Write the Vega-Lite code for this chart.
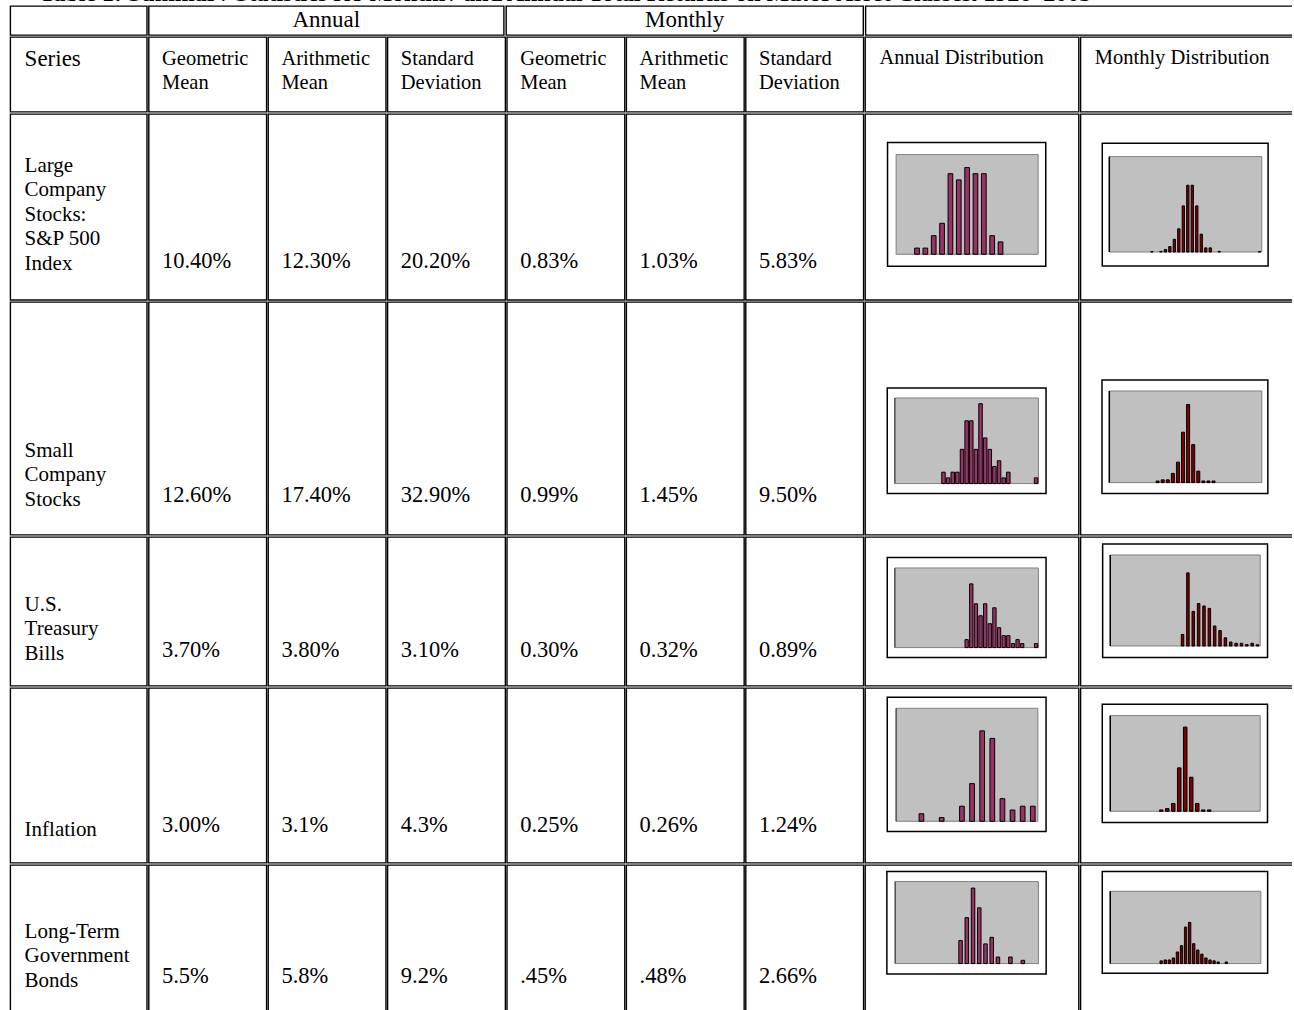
{
  "$schema": "https://vega.github.io/schema/vega-lite/v6.json",
  "background": "white",
  "padding": {"left": 9.3, "top": 0, "right": -3.3, "bottom": -6.3},
  "spacing": 0,
  "config": {
    "view": {"stroke": "black", "strokeWidth": 1.4},
    "text": {"font": "Liberation Serif", "color": "black", "align": "left", "baseline": "alphabetic", "fontSize": 22.5, "dx": 13.3, "lineBreak": "\n", "lineHeight": 24},
    "concat": {"spacing": 1.4}
  },
  "datasets": {
    "stats": [
      {"series": "Large", "col": "AG", "value": "10.40%"}, {"series": "Large", "col": "AA", "value": "12.30%"}, {"series": "Large", "col": "AS", "value": "20.20%"},
      {"series": "Large", "col": "MG", "value": "0.83%"}, {"series": "Large", "col": "MA", "value": "1.03%"}, {"series": "Large", "col": "MS", "value": "5.83%"},
      {"series": "Small", "col": "AG", "value": "12.60%"}, {"series": "Small", "col": "AA", "value": "17.40%"}, {"series": "Small", "col": "AS", "value": "32.90%"},
      {"series": "Small", "col": "MG", "value": "0.99%"}, {"series": "Small", "col": "MA", "value": "1.45%"}, {"series": "Small", "col": "MS", "value": "9.50%"},
      {"series": "TBills", "col": "AG", "value": "3.70%"}, {"series": "TBills", "col": "AA", "value": "3.80%"}, {"series": "TBills", "col": "AS", "value": "3.10%"},
      {"series": "TBills", "col": "MG", "value": "0.30%"}, {"series": "TBills", "col": "MA", "value": "0.32%"}, {"series": "TBills", "col": "MS", "value": "0.89%"},
      {"series": "Inflation", "col": "AG", "value": "3.00%"}, {"series": "Inflation", "col": "AA", "value": "3.1%"}, {"series": "Inflation", "col": "AS", "value": "4.3%"},
      {"series": "Inflation", "col": "MG", "value": "0.25%"}, {"series": "Inflation", "col": "MA", "value": "0.26%"}, {"series": "Inflation", "col": "MS", "value": "1.24%"},
      {"series": "Bonds", "col": "AG", "value": "5.5%"}, {"series": "Bonds", "col": "AA", "value": "5.8%"}, {"series": "Bonds", "col": "AS", "value": "9.2%"},
      {"series": "Bonds", "col": "MG", "value": ".45%"}, {"series": "Bonds", "col": "MA", "value": ".48%"}, {"series": "Bonds", "col": "MS", "value": "2.66%"}
    ],
    "series": [
      {"series": "Large", "label": "Large\nCompany\nStocks:\nS&P 500\nIndex"},
      {"series": "Small", "label": "Small\nCompany\nStocks"},
      {"series": "TBills", "label": "U.S.\nTreasury\nBills"},
      {"series": "Inflation", "label": "Inflation"},
      {"series": "Bonds", "label": "Long-Term\nGovernment\nBonds"}
    ],
    "headers": [
      {"col": "AG", "label": "Geometric\nMean"}, {"col": "AA", "label": "Arithmetic\nMean"}, {"col": "AS", "label": "Standard\nDeviation"},
      {"col": "MG", "label": "Geometric\nMean"}, {"col": "MA", "label": "Arithmetic\nMean"}, {"col": "MS", "label": "Standard\nDeviation"}
    ],
    "hist": [
      {"series": "Large", "freq": "Annual", "bin": 2, "count": 1}, {"series": "Large", "freq": "Annual", "bin": 3, "count": 1},
      {"series": "Large", "freq": "Annual", "bin": 4, "count": 3}, {"series": "Large", "freq": "Annual", "bin": 5, "count": 5},
      {"series": "Large", "freq": "Annual", "bin": 6, "count": 13}, {"series": "Large", "freq": "Annual", "bin": 7, "count": 12},
      {"series": "Large", "freq": "Annual", "bin": 8, "count": 14}, {"series": "Large", "freq": "Annual", "bin": 9, "count": 13},
      {"series": "Large", "freq": "Annual", "bin": 10, "count": 13}, {"series": "Large", "freq": "Annual", "bin": 11, "count": 3},
      {"series": "Large", "freq": "Annual", "bin": 12, "count": 2},
      {"series": "Large", "freq": "Monthly", "bin": 9, "count": 1}, {"series": "Large", "freq": "Monthly", "bin": 11, "count": 2},
      {"series": "Large", "freq": "Monthly", "bin": 12, "count": 8}, {"series": "Large", "freq": "Monthly", "bin": 13, "count": 17},
      {"series": "Large", "freq": "Monthly", "bin": 14, "count": 40}, {"series": "Large", "freq": "Monthly", "bin": 15, "count": 73},
      {"series": "Large", "freq": "Monthly", "bin": 16, "count": 145}, {"series": "Large", "freq": "Monthly", "bin": 17, "count": 210},
      {"series": "Large", "freq": "Monthly", "bin": 18, "count": 210}, {"series": "Large", "freq": "Monthly", "bin": 19, "count": 145},
      {"series": "Large", "freq": "Monthly", "bin": 20, "count": 56}, {"series": "Large", "freq": "Monthly", "bin": 21, "count": 13},
      {"series": "Large", "freq": "Monthly", "bin": 22, "count": 13}, {"series": "Large", "freq": "Monthly", "bin": 24, "count": 2},
      {"series": "Large", "freq": "Monthly", "bin": 33, "count": 1},
      {"series": "Small", "freq": "Annual", "bin": 10, "count": 2}, {"series": "Small", "freq": "Annual", "bin": 11, "count": 1},
      {"series": "Small", "freq": "Annual", "bin": 12, "count": 2}, {"series": "Small", "freq": "Annual", "bin": 13, "count": 2},
      {"series": "Small", "freq": "Annual", "bin": 14, "count": 6}, {"series": "Small", "freq": "Annual", "bin": 15, "count": 11},
      {"series": "Small", "freq": "Annual", "bin": 16, "count": 11}, {"series": "Small", "freq": "Annual", "bin": 17, "count": 6},
      {"series": "Small", "freq": "Annual", "bin": 18, "count": 14}, {"series": "Small", "freq": "Annual", "bin": 19, "count": 8},
      {"series": "Small", "freq": "Annual", "bin": 20, "count": 6}, {"series": "Small", "freq": "Annual", "bin": 21, "count": 3},
      {"series": "Small", "freq": "Annual", "bin": 22, "count": 4}, {"series": "Small", "freq": "Annual", "bin": 23, "count": 1},
      {"series": "Small", "freq": "Annual", "bin": 24, "count": 2}, {"series": "Small", "freq": "Annual", "bin": 30, "count": 1},
      {"series": "Small", "freq": "Monthly", "bin": 9, "count": 7}, {"series": "Small", "freq": "Monthly", "bin": 10, "count": 12},
      {"series": "Small", "freq": "Monthly", "bin": 11, "count": 12}, {"series": "Small", "freq": "Monthly", "bin": 12, "count": 40},
      {"series": "Small", "freq": "Monthly", "bin": 13, "count": 89}, {"series": "Small", "freq": "Monthly", "bin": 14, "count": 220},
      {"series": "Small", "freq": "Monthly", "bin": 15, "count": 341}, {"series": "Small", "freq": "Monthly", "bin": 16, "count": 166},
      {"series": "Small", "freq": "Monthly", "bin": 17, "count": 50}, {"series": "Small", "freq": "Monthly", "bin": 18, "count": 7},
      {"series": "Small", "freq": "Monthly", "bin": 19, "count": 7}, {"series": "Small", "freq": "Monthly", "bin": 20, "count": 7},
      {"series": "TBills", "freq": "Annual", "bin": 15, "count": 2}, {"series": "TBills", "freq": "Annual", "bin": 16, "count": 16},
      {"series": "TBills", "freq": "Annual", "bin": 17, "count": 11}, {"series": "TBills", "freq": "Annual", "bin": 18, "count": 8},
      {"series": "TBills", "freq": "Annual", "bin": 19, "count": 11}, {"series": "TBills", "freq": "Annual", "bin": 20, "count": 6},
      {"series": "TBills", "freq": "Annual", "bin": 21, "count": 10}, {"series": "TBills", "freq": "Annual", "bin": 22, "count": 5},
      {"series": "TBills", "freq": "Annual", "bin": 23, "count": 3}, {"series": "TBills", "freq": "Annual", "bin": 24, "count": 3},
      {"series": "TBills", "freq": "Annual", "bin": 25, "count": 1}, {"series": "TBills", "freq": "Annual", "bin": 26, "count": 2},
      {"series": "TBills", "freq": "Annual", "bin": 27, "count": 1}, {"series": "TBills", "freq": "Annual", "bin": 30, "count": 1},
      {"series": "TBills", "freq": "Monthly", "bin": 13, "count": 38}, {"series": "TBills", "freq": "Monthly", "bin": 14, "count": 241},
      {"series": "TBills", "freq": "Monthly", "bin": 15, "count": 114}, {"series": "TBills", "freq": "Monthly", "bin": 16, "count": 140},
      {"series": "TBills", "freq": "Monthly", "bin": 17, "count": 132}, {"series": "TBills", "freq": "Monthly", "bin": 18, "count": 124},
      {"series": "TBills", "freq": "Monthly", "bin": 19, "count": 66}, {"series": "TBills", "freq": "Monthly", "bin": 20, "count": 51},
      {"series": "TBills", "freq": "Monthly", "bin": 21, "count": 27}, {"series": "TBills", "freq": "Monthly", "bin": 22, "count": 13},
      {"series": "TBills", "freq": "Monthly", "bin": 23, "count": 9}, {"series": "TBills", "freq": "Monthly", "bin": 24, "count": 9},
      {"series": "TBills", "freq": "Monthly", "bin": 25, "count": 5}, {"series": "TBills", "freq": "Monthly", "bin": 26, "count": 9},
      {"series": "TBills", "freq": "Monthly", "bin": 27, "count": 4},
      {"series": "Inflation", "freq": "Annual", "bin": 2, "count": 2}, {"series": "Inflation", "freq": "Annual", "bin": 4, "count": 1},
      {"series": "Inflation", "freq": "Annual", "bin": 6, "count": 4}, {"series": "Inflation", "freq": "Annual", "bin": 7, "count": 10},
      {"series": "Inflation", "freq": "Annual", "bin": 8, "count": 24}, {"series": "Inflation", "freq": "Annual", "bin": 9, "count": 22},
      {"series": "Inflation", "freq": "Annual", "bin": 10, "count": 6}, {"series": "Inflation", "freq": "Annual", "bin": 11, "count": 3},
      {"series": "Inflation", "freq": "Annual", "bin": 12, "count": 4}, {"series": "Inflation", "freq": "Annual", "bin": 13, "count": 4},
      {"series": "Inflation", "freq": "Monthly", "bin": 8, "count": 7}, {"series": "Inflation", "freq": "Monthly", "bin": 9, "count": 14},
      {"series": "Inflation", "freq": "Monthly", "bin": 10, "count": 41}, {"series": "Inflation", "freq": "Monthly", "bin": 11, "count": 227},
      {"series": "Inflation", "freq": "Monthly", "bin": 12, "count": 440}, {"series": "Inflation", "freq": "Monthly", "bin": 13, "count": 178},
      {"series": "Inflation", "freq": "Monthly", "bin": 14, "count": 41}, {"series": "Inflation", "freq": "Monthly", "bin": 15, "count": 7},
      {"series": "Inflation", "freq": "Monthly", "bin": 16, "count": 7},
      {"series": "Bonds", "freq": "Annual", "bin": 10, "count": 7}, {"series": "Bonds", "freq": "Annual", "bin": 11, "count": 14},
      {"series": "Bonds", "freq": "Annual", "bin": 12, "count": 23}, {"series": "Bonds", "freq": "Annual", "bin": 13, "count": 17},
      {"series": "Bonds", "freq": "Annual", "bin": 14, "count": 6}, {"series": "Bonds", "freq": "Annual", "bin": 15, "count": 8},
      {"series": "Bonds", "freq": "Annual", "bin": 16, "count": 2}, {"series": "Bonds", "freq": "Annual", "bin": 18, "count": 2},
      {"series": "Bonds", "freq": "Annual", "bin": 20, "count": 1},
      {"series": "Bonds", "freq": "Monthly", "bin": 12, "count": 15}, {"series": "Bonds", "freq": "Monthly", "bin": 13, "count": 20},
      {"series": "Bonds", "freq": "Monthly", "bin": 14, "count": 20}, {"series": "Bonds", "freq": "Monthly", "bin": 15, "count": 31},
      {"series": "Bonds", "freq": "Monthly", "bin": 16, "count": 64}, {"series": "Bonds", "freq": "Monthly", "bin": 17, "count": 99},
      {"series": "Bonds", "freq": "Monthly", "bin": 18, "count": 202}, {"series": "Bonds", "freq": "Monthly", "bin": 19, "count": 228},
      {"series": "Bonds", "freq": "Monthly", "bin": 20, "count": 110}, {"series": "Bonds", "freq": "Monthly", "bin": 21, "count": 75},
      {"series": "Bonds", "freq": "Monthly", "bin": 22, "count": 52}, {"series": "Bonds", "freq": "Monthly", "bin": 23, "count": 31},
      {"series": "Bonds", "freq": "Monthly", "bin": 24, "count": 20}, {"series": "Bonds", "freq": "Monthly", "bin": 25, "count": 15},
      {"series": "Bonds", "freq": "Monthly", "bin": 26, "count": 9}, {"series": "Bonds", "freq": "Monthly", "bin": 28, "count": 9}
    ]
  },
  "vconcat": [
    {
      "width": 1280, "height": 1, "view": {"stroke": null},
      "data": {"values": [{"title": "Table 1: Summary Statistics for Monthly and Annual Total Returns on Major Asset Classes, 1926–2005"}]},
      "mark": {"type": "text", "fontSize": 24, "fontWeight": "bold", "clip": true, "dx": 29.3, "dy": 1.2},
      "encoding": {
        "x": {"datum": 0, "type": "quantitative", "scale": {"domain": [0, 1]}, "axis": null},
        "y": {"datum": 1, "type": "quantitative", "scale": {"domain": [0, 1]}, "axis": null},
        "text": {"field": "title"}
      }
    },
    {
      "bounds": "flush",
      "hconcat": [
        {"width": 136.6, "height": 29.0, "data": {"values": [{"label": ""}]}, "mark": {"type": "text"},
         "encoding": {"x": {"datum": 0.5, "type": "quantitative", "scale": {"domain": [0, 1]}, "axis": null}, "y": {"datum": 0.5, "type": "quantitative", "scale": {"domain": [0, 1]}, "axis": null}, "text": {"field": "label"}}},
        {"width": 355.1, "height": 29.0, "data": {"values": [{"label": "Annual"}]}, "mark": {"type": "text", "fontSize": 23, "align": "center", "baseline": "middle", "dx": 0},
         "encoding": {"x": {"datum": 0.5, "type": "quantitative", "scale": {"domain": [0, 1]}, "axis": null}, "y": {"datum": 0.5, "type": "quantitative", "scale": {"domain": [0, 1]}, "axis": null}, "text": {"field": "label"}}},
        {"width": 357.1, "height": 29.0, "data": {"values": [{"label": "Monthly"}]}, "mark": {"type": "text", "fontSize": 23, "align": "center", "baseline": "middle", "dx": 0},
         "encoding": {"x": {"datum": 0.5, "type": "quantitative", "scale": {"domain": [0, 1]}, "axis": null}, "y": {"datum": 0.5, "type": "quantitative", "scale": {"domain": [0, 1]}, "axis": null}, "text": {"field": "label"}}},
        {"width": 428.6, "height": 29.0, "data": {"values": [{"label": ""}]}, "mark": {"type": "text"},
         "encoding": {"x": {"datum": 0.5, "type": "quantitative", "scale": {"domain": [0, 1]}, "axis": null}, "y": {"datum": 0.5, "type": "quantitative", "scale": {"domain": [0, 1]}, "axis": null}, "text": {"field": "label"}}}
      ]
    },
    {
      "bounds": "flush",
      "hconcat": [
        {"width": 136.6, "height": 74.8, "data": {"values": [{"label": "Series"}]}, "mark": {"type": "text", "fontSize": 23, "dx": 14.3, "dy": 29.3},
         "encoding": {"x": {"datum": 0, "type": "quantitative", "scale": {"domain": [0, 1]}, "axis": null}, "y": {"datum": 1, "type": "quantitative", "scale": {"domain": [0, 1]}, "axis": null}, "text": {"field": "label"}}},
        {"width": 117.77, "height": 74.8, "data": {"name": "headers"}, "transform": [{"filter": "datum.col === 'AG'"}], "mark": {"type": "text", "fontSize": 20.5, "dy": 27.8},
         "encoding": {"x": {"datum": 0, "type": "quantitative", "scale": {"domain": [0, 1]}, "axis": null}, "y": {"datum": 1, "type": "quantitative", "scale": {"domain": [0, 1]}, "axis": null}, "text": {"field": "label"}}},
        {"width": 117.77, "height": 74.8, "data": {"name": "headers"}, "transform": [{"filter": "datum.col === 'AA'"}], "mark": {"type": "text", "fontSize": 20.5, "dy": 27.8},
         "encoding": {"x": {"datum": 0, "type": "quantitative", "scale": {"domain": [0, 1]}, "axis": null}, "y": {"datum": 1, "type": "quantitative", "scale": {"domain": [0, 1]}, "axis": null}, "text": {"field": "label"}}},
        {"width": 117.77, "height": 74.8, "data": {"name": "headers"}, "transform": [{"filter": "datum.col === 'AS'"}], "mark": {"type": "text", "fontSize": 20.5, "dy": 27.8},
         "encoding": {"x": {"datum": 0, "type": "quantitative", "scale": {"domain": [0, 1]}, "axis": null}, "y": {"datum": 1, "type": "quantitative", "scale": {"domain": [0, 1]}, "axis": null}, "text": {"field": "label"}}},
        {"width": 117.77, "height": 74.8, "data": {"name": "headers"}, "transform": [{"filter": "datum.col === 'MG'"}], "mark": {"type": "text", "fontSize": 20.5, "dy": 27.8},
         "encoding": {"x": {"datum": 0, "type": "quantitative", "scale": {"domain": [0, 1]}, "axis": null}, "y": {"datum": 1, "type": "quantitative", "scale": {"domain": [0, 1]}, "axis": null}, "text": {"field": "label"}}},
        {"width": 117.77, "height": 74.8, "data": {"name": "headers"}, "transform": [{"filter": "datum.col === 'MA'"}], "mark": {"type": "text", "fontSize": 20.5, "dy": 27.8},
         "encoding": {"x": {"datum": 0, "type": "quantitative", "scale": {"domain": [0, 1]}, "axis": null}, "y": {"datum": 1, "type": "quantitative", "scale": {"domain": [0, 1]}, "axis": null}, "text": {"field": "label"}}},
        {"width": 117.77, "height": 74.8, "data": {"name": "headers"}, "transform": [{"filter": "datum.col === 'MS'"}], "mark": {"type": "text", "fontSize": 20.5, "dy": 27.8},
         "encoding": {"x": {"datum": 0, "type": "quantitative", "scale": {"domain": [0, 1]}, "axis": null}, "y": {"datum": 1, "type": "quantitative", "scale": {"domain": [0, 1]}, "axis": null}, "text": {"field": "label"}}},
        {"width": 213.6, "height": 74.8, "data": {"values": [{"label": "Annual Distribution"}]}, "mark": {"type": "text", "fontSize": 20.5, "dx": 14.3, "dy": 26.8},
         "encoding": {"x": {"datum": 0, "type": "quantitative", "scale": {"domain": [0, 1]}, "axis": null}, "y": {"datum": 1, "type": "quantitative", "scale": {"domain": [0, 1]}, "axis": null}, "text": {"field": "label"}}},
        {"width": 213.6, "height": 74.8, "data": {"values": [{"label": "Monthly Distribution"}]}, "mark": {"type": "text", "fontSize": 20.5, "dx": 14.3, "dy": 26.8},
         "encoding": {"x": {"datum": 0, "type": "quantitative", "scale": {"domain": [0, 1]}, "axis": null}, "y": {"datum": 1, "type": "quantitative", "scale": {"domain": [0, 1]}, "axis": null}, "text": {"field": "label"}}}
      ]
    },
    {
      "bounds": "flush",
      "hconcat": [
        {"width": 136.6, "height": 185.9, "data": {"name": "series"}, "transform": [{"filter": "datum.series === 'Large'"}], "mark": {"type": "text", "fontSize": 21, "lineHeight": 24.5, "dx": 14.3, "dy": 58},
         "encoding": {"x": {"datum": 0, "type": "quantitative", "scale": {"domain": [0, 1]}, "axis": null}, "y": {"datum": 1, "type": "quantitative", "scale": {"domain": [0, 1]}, "axis": null}, "text": {"field": "label"}}},
        {"width": 117.77, "height": 185.9, "data": {"name": "stats"}, "transform": [{"filter": "datum.series === 'Large' && datum.col === 'AG'"}], "mark": {"type": "text", "dy": 153.6},
         "encoding": {"x": {"datum": 0, "type": "quantitative", "scale": {"domain": [0, 1]}, "axis": null}, "y": {"datum": 1, "type": "quantitative", "scale": {"domain": [0, 1]}, "axis": null}, "text": {"field": "value"}}},
        {"width": 117.77, "height": 185.9, "data": {"name": "stats"}, "transform": [{"filter": "datum.series === 'Large' && datum.col === 'AA'"}], "mark": {"type": "text", "dy": 153.6},
         "encoding": {"x": {"datum": 0, "type": "quantitative", "scale": {"domain": [0, 1]}, "axis": null}, "y": {"datum": 1, "type": "quantitative", "scale": {"domain": [0, 1]}, "axis": null}, "text": {"field": "value"}}},
        {"width": 117.77, "height": 185.9, "data": {"name": "stats"}, "transform": [{"filter": "datum.series === 'Large' && datum.col === 'AS'"}], "mark": {"type": "text", "dy": 153.6},
         "encoding": {"x": {"datum": 0, "type": "quantitative", "scale": {"domain": [0, 1]}, "axis": null}, "y": {"datum": 1, "type": "quantitative", "scale": {"domain": [0, 1]}, "axis": null}, "text": {"field": "value"}}},
        {"width": 117.77, "height": 185.9, "data": {"name": "stats"}, "transform": [{"filter": "datum.series === 'Large' && datum.col === 'MG'"}], "mark": {"type": "text", "dy": 153.6},
         "encoding": {"x": {"datum": 0, "type": "quantitative", "scale": {"domain": [0, 1]}, "axis": null}, "y": {"datum": 1, "type": "quantitative", "scale": {"domain": [0, 1]}, "axis": null}, "text": {"field": "value"}}},
        {"width": 117.77, "height": 185.9, "data": {"name": "stats"}, "transform": [{"filter": "datum.series === 'Large' && datum.col === 'MA'"}], "mark": {"type": "text", "dy": 153.6},
         "encoding": {"x": {"datum": 0, "type": "quantitative", "scale": {"domain": [0, 1]}, "axis": null}, "y": {"datum": 1, "type": "quantitative", "scale": {"domain": [0, 1]}, "axis": null}, "text": {"field": "value"}}},
        {"width": 117.77, "height": 185.9, "data": {"name": "stats"}, "transform": [{"filter": "datum.series === 'Large' && datum.col === 'MS'"}], "mark": {"type": "text", "dy": 153.6},
         "encoding": {"x": {"datum": 0, "type": "quantitative", "scale": {"domain": [0, 1]}, "axis": null}, "y": {"datum": 1, "type": "quantitative", "scale": {"domain": [0, 1]}, "axis": null}, "text": {"field": "value"}}},
        {"width": 213.6, "height": 185.9,
         "layer": [
           {"data": {"values": [{}]}, "mark": {"type": "rect", "fill": "white", "stroke": "black", "strokeWidth": 1.5},
            "encoding": {"x": {"datum": -1.527, "type": "quantitative", "scale": {"domain": [-3.615, 20.757], "nice": false, "zero": false}, "axis": null}, "x2": {"datum": 17.413},
                         "y": {"datum": -1.94, "type": "quantitative", "scale": {"domain": [-7.355, 22.627], "nice": false, "zero": false}, "axis": null}, "y2": {"datum": 18.02}}},
           {"data": {"values": [{}]}, "mark": {"type": "rect", "fill": "#c0c0c0", "stroke": "#808080", "strokeWidth": 1},
            "encoding": {"x": {"datum": -0.5, "type": "quantitative", "scale": {"domain": [-3.615, 20.757], "nice": false, "zero": false}, "axis": null}, "x2": {"datum": 16.5},
                         "y": {"datum": 0, "type": "quantitative", "scale": {"domain": [-7.355, 22.627], "nice": false, "zero": false}, "axis": null}, "y2": {"datum": 16.08}}},
           {"data": {"name": "hist"}, "transform": [{"filter": "datum.series === 'Large' && datum.freq === 'Annual'"}],
            "mark": {"type": "bar", "orient": "vertical", "fill": "#993366", "stroke": "black", "strokeWidth": 1, "width": 4.7},
            "encoding": {"x": {"field": "bin", "type": "quantitative", "scale": {"domain": [-3.615, 20.757], "nice": false, "zero": false}, "axis": null},
                         "y": {"field": "count", "type": "quantitative", "scale": {"domain": [-7.355, 22.627], "nice": false, "zero": false}, "axis": null}}}
         ]},
        {"width": 213.6, "height": 185.9,
         "layer": [
           {"data": {"values": [{}]}, "mark": {"type": "rect", "fill": "white", "stroke": "black", "strokeWidth": 1.5},
            "encoding": {"x": {"datum": -2.072, "type": "quantitative", "scale": {"domain": [-5.812, 39.579], "nice": false, "zero": false}, "axis": null}, "x2": {"datum": 34.9},
                         "y": {"datum": -44.0, "type": "quantitative", "scale": {"domain": [-150.6, 434.0], "nice": false, "zero": false}, "axis": null}, "y2": {"datum": 341.8}}},
           {"data": {"values": [{}]}, "mark": {"type": "rect", "fill": "#c0c0c0", "stroke": "#808080", "strokeWidth": 1},
            "encoding": {"x": {"datum": -0.5, "type": "quantitative", "scale": {"domain": [-5.812, 39.579], "nice": false, "zero": false}, "axis": null}, "x2": {"datum": 33.5},
                         "y": {"datum": 0, "type": "quantitative", "scale": {"domain": [-150.6, 434.0], "nice": false, "zero": false}, "axis": null}, "y2": {"datum": 300}}},
           {"data": {"values": [{}]}, "mark": {"type": "rule", "color": "black", "strokeWidth": 1.5},
            "encoding": {"x": {"datum": -0.5, "type": "quantitative", "scale": {"domain": [-5.812, 39.579], "nice": false, "zero": false}, "axis": null},
                         "y": {"datum": 0, "type": "quantitative", "scale": {"domain": [-150.6, 434.0], "nice": false, "zero": false}, "axis": null}, "y2": {"datum": 300}}},
           {"data": {"name": "hist"}, "transform": [{"filter": "datum.series === 'Large' && datum.freq === 'Monthly'"}],
            "mark": {"type": "bar", "orient": "vertical", "fill": "#800000", "stroke": "black", "strokeWidth": 1, "width": 2.3},
            "encoding": {"x": {"field": "bin", "type": "quantitative", "scale": {"domain": [-5.812, 39.579], "nice": false, "zero": false}, "axis": null},
                         "y": {"field": "count", "type": "quantitative", "scale": {"domain": [-150.6, 434.0], "nice": false, "zero": false},
                               "axis": {"orient": "left", "offset": -25.0, "domain": false, "labels": false, "grid": false, "ticks": true, "tickSize": 3, "tickColor": "black", "tickWidth": 1.5, "values": [0, 100, 200, 300], "title": null}}}}
         ]}
      ]
    },
    {
      "bounds": "flush",
      "hconcat": [
        {"width": 136.6, "height": 232.8, "data": {"name": "series"}, "transform": [{"filter": "datum.series === 'Small'"}], "mark": {"type": "text", "fontSize": 21, "lineHeight": 24.5, "dx": 14.3, "dy": 154.8},
         "encoding": {"x": {"datum": 0, "type": "quantitative", "scale": {"domain": [0, 1]}, "axis": null}, "y": {"datum": 1, "type": "quantitative", "scale": {"domain": [0, 1]}, "axis": null}, "text": {"field": "label"}}},
        {"width": 117.77, "height": 232.8, "data": {"name": "stats"}, "transform": [{"filter": "datum.series === 'Small' && datum.col === 'AG'"}], "mark": {"type": "text", "dy": 200.3},
         "encoding": {"x": {"datum": 0, "type": "quantitative", "scale": {"domain": [0, 1]}, "axis": null}, "y": {"datum": 1, "type": "quantitative", "scale": {"domain": [0, 1]}, "axis": null}, "text": {"field": "value"}}},
        {"width": 117.77, "height": 232.8, "data": {"name": "stats"}, "transform": [{"filter": "datum.series === 'Small' && datum.col === 'AA'"}], "mark": {"type": "text", "dy": 200.3},
         "encoding": {"x": {"datum": 0, "type": "quantitative", "scale": {"domain": [0, 1]}, "axis": null}, "y": {"datum": 1, "type": "quantitative", "scale": {"domain": [0, 1]}, "axis": null}, "text": {"field": "value"}}},
        {"width": 117.77, "height": 232.8, "data": {"name": "stats"}, "transform": [{"filter": "datum.series === 'Small' && datum.col === 'AS'"}], "mark": {"type": "text", "dy": 200.3},
         "encoding": {"x": {"datum": 0, "type": "quantitative", "scale": {"domain": [0, 1]}, "axis": null}, "y": {"datum": 1, "type": "quantitative", "scale": {"domain": [0, 1]}, "axis": null}, "text": {"field": "value"}}},
        {"width": 117.77, "height": 232.8, "data": {"name": "stats"}, "transform": [{"filter": "datum.series === 'Small' && datum.col === 'MG'"}], "mark": {"type": "text", "dy": 200.3},
         "encoding": {"x": {"datum": 0, "type": "quantitative", "scale": {"domain": [0, 1]}, "axis": null}, "y": {"datum": 1, "type": "quantitative", "scale": {"domain": [0, 1]}, "axis": null}, "text": {"field": "value"}}},
        {"width": 117.77, "height": 232.8, "data": {"name": "stats"}, "transform": [{"filter": "datum.series === 'Small' && datum.col === 'MA'"}], "mark": {"type": "text", "dy": 200.3},
         "encoding": {"x": {"datum": 0, "type": "quantitative", "scale": {"domain": [0, 1]}, "axis": null}, "y": {"datum": 1, "type": "quantitative", "scale": {"domain": [0, 1]}, "axis": null}, "text": {"field": "value"}}},
        {"width": 117.77, "height": 232.8, "data": {"name": "stats"}, "transform": [{"filter": "datum.series === 'Small' && datum.col === 'MS'"}], "mark": {"type": "text", "dy": 200.3},
         "encoding": {"x": {"datum": 0, "type": "quantitative", "scale": {"domain": [0, 1]}, "axis": null}, "y": {"datum": 1, "type": "quantitative", "scale": {"domain": [0, 1]}, "axis": null}, "text": {"field": "value"}}},
        {"width": 213.6, "height": 232.8,
         "layer": [
           {"data": {"values": [{}]}, "mark": {"type": "rect", "fill": "white", "stroke": "black", "strokeWidth": 1.5},
            "encoding": {"x": {"datum": -2.147, "type": "quantitative", "scale": {"domain": [-5.852, 38.12], "nice": false, "zero": false}, "axis": null}, "x2": {"datum": 32.15},
                         "y": {"datum": -1.752, "type": "quantitative", "scale": {"domain": [-8.971, 31.817], "nice": false, "zero": false}, "axis": null}, "y2": {"datum": 16.75}}},
           {"data": {"values": [{}]}, "mark": {"type": "rect", "fill": "#c0c0c0", "stroke": "#808080", "strokeWidth": 1},
            "encoding": {"x": {"datum": -0.5, "type": "quantitative", "scale": {"domain": [-5.852, 38.12], "nice": false, "zero": false}, "axis": null}, "x2": {"datum": 30.5},
                         "y": {"datum": 0, "type": "quantitative", "scale": {"domain": [-8.971, 31.817], "nice": false, "zero": false}, "axis": null}, "y2": {"datum": 15}}},
           {"data": {"values": [{}]}, "mark": {"type": "rule", "color": "#333333", "strokeWidth": 1},
            "encoding": {"x": {"datum": -0.5, "type": "quantitative", "scale": {"domain": [-5.852, 38.12], "nice": false, "zero": false}, "axis": null},
                         "y": {"datum": 0, "type": "quantitative", "scale": {"domain": [-8.971, 31.817], "nice": false, "zero": false}, "axis": null}, "y2": {"datum": 15}}},
           {"data": {"name": "hist"}, "transform": [{"filter": "datum.series === 'Small' && datum.freq === 'Annual'"}],
            "mark": {"type": "bar", "orient": "vertical", "fill": "#993366", "stroke": "black", "strokeWidth": 1, "width": 3.5},
            "encoding": {"x": {"field": "bin", "type": "quantitative", "scale": {"domain": [-5.852, 38.12], "nice": false, "zero": false}, "axis": null},
                         "y": {"field": "count", "type": "quantitative", "scale": {"domain": [-8.971, 31.817], "nice": false, "zero": false},
                               "axis": {"orient": "left", "offset": -26.0, "domain": false, "labels": false, "grid": false, "ticks": true, "tickSize": 2, "tickColor": "#333333", "tickWidth": 1, "values": [0, 3, 6, 9, 12, 15], "title": null}}}}
         ]},
        {"width": 213.6, "height": 232.8,
         "layer": [
           {"data": {"values": [{}]}, "mark": {"type": "rect", "fill": "white", "stroke": "black", "strokeWidth": 1.5},
            "encoding": {"x": {"datum": -1.944, "type": "quantitative", "scale": {"domain": [-5.188, 34.861], "nice": false, "zero": false}, "axis": null}, "x2": {"datum": 30.68},
                         "y": {"datum": -48.0, "type": "quantitative", "scale": {"domain": [-227.94, 788.64], "nice": false, "zero": false}, "axis": null}, "y2": {"datum": 448.0}}},
           {"data": {"values": [{}]}, "mark": {"type": "rect", "fill": "#c0c0c0", "stroke": "#808080", "strokeWidth": 1},
            "encoding": {"x": {"datum": -0.5, "type": "quantitative", "scale": {"domain": [-5.188, 34.861], "nice": false, "zero": false}, "axis": null}, "x2": {"datum": 29.5},
                         "y": {"datum": 0, "type": "quantitative", "scale": {"domain": [-227.94, 788.64], "nice": false, "zero": false}, "axis": null}, "y2": {"datum": 400}}},
           {"data": {"values": [{}]}, "mark": {"type": "rule", "color": "black", "strokeWidth": 1.5},
            "encoding": {"x": {"datum": -0.5, "type": "quantitative", "scale": {"domain": [-5.188, 34.861], "nice": false, "zero": false}, "axis": null},
                         "y": {"datum": 0, "type": "quantitative", "scale": {"domain": [-227.94, 788.64], "nice": false, "zero": false}, "axis": null}, "y2": {"datum": 400}}},
           {"data": {"name": "hist"}, "transform": [{"filter": "datum.series === 'Small' && datum.freq === 'Monthly'"}],
            "mark": {"type": "bar", "orient": "vertical", "fill": "#800000", "stroke": "black", "strokeWidth": 1, "width": 3},
            "encoding": {"x": {"field": "bin", "type": "quantitative", "scale": {"domain": [-5.188, 34.861], "nice": false, "zero": false}, "axis": null},
                         "y": {"field": "count", "type": "quantitative", "scale": {"domain": [-227.94, 788.64], "nice": false, "zero": false},
                               "axis": {"orient": "left", "offset": -25.0, "domain": false, "labels": false, "grid": false, "ticks": true, "tickSize": 3, "tickColor": "black", "tickWidth": 1.5, "values": [0, 200, 400], "title": null}}}}
         ]}
      ]
    },
    {
      "bounds": "flush",
      "hconcat": [
        {"width": 136.6, "height": 148.8, "data": {"name": "series"}, "transform": [{"filter": "datum.series === 'TBills'"}], "mark": {"type": "text", "fontSize": 21, "lineHeight": 24.5, "dx": 14.3, "dy": 73.8},
         "encoding": {"x": {"datum": 0, "type": "quantitative", "scale": {"domain": [0, 1]}, "axis": null}, "y": {"datum": 1, "type": "quantitative", "scale": {"domain": [0, 1]}, "axis": null}, "text": {"field": "label"}}},
        {"width": 117.77, "height": 148.8, "data": {"name": "stats"}, "transform": [{"filter": "datum.series === 'TBills' && datum.col === 'AG'"}], "mark": {"type": "text", "dy": 120.3},
         "encoding": {"x": {"datum": 0, "type": "quantitative", "scale": {"domain": [0, 1]}, "axis": null}, "y": {"datum": 1, "type": "quantitative", "scale": {"domain": [0, 1]}, "axis": null}, "text": {"field": "value"}}},
        {"width": 117.77, "height": 148.8, "data": {"name": "stats"}, "transform": [{"filter": "datum.series === 'TBills' && datum.col === 'AA'"}], "mark": {"type": "text", "dy": 120.3},
         "encoding": {"x": {"datum": 0, "type": "quantitative", "scale": {"domain": [0, 1]}, "axis": null}, "y": {"datum": 1, "type": "quantitative", "scale": {"domain": [0, 1]}, "axis": null}, "text": {"field": "value"}}},
        {"width": 117.77, "height": 148.8, "data": {"name": "stats"}, "transform": [{"filter": "datum.series === 'TBills' && datum.col === 'AS'"}], "mark": {"type": "text", "dy": 120.3},
         "encoding": {"x": {"datum": 0, "type": "quantitative", "scale": {"domain": [0, 1]}, "axis": null}, "y": {"datum": 1, "type": "quantitative", "scale": {"domain": [0, 1]}, "axis": null}, "text": {"field": "value"}}},
        {"width": 117.77, "height": 148.8, "data": {"name": "stats"}, "transform": [{"filter": "datum.series === 'TBills' && datum.col === 'MG'"}], "mark": {"type": "text", "dy": 120.3},
         "encoding": {"x": {"datum": 0, "type": "quantitative", "scale": {"domain": [0, 1]}, "axis": null}, "y": {"datum": 1, "type": "quantitative", "scale": {"domain": [0, 1]}, "axis": null}, "text": {"field": "value"}}},
        {"width": 117.77, "height": 148.8, "data": {"name": "stats"}, "transform": [{"filter": "datum.series === 'TBills' && datum.col === 'MA'"}], "mark": {"type": "text", "dy": 120.3},
         "encoding": {"x": {"datum": 0, "type": "quantitative", "scale": {"domain": [0, 1]}, "axis": null}, "y": {"datum": 1, "type": "quantitative", "scale": {"domain": [0, 1]}, "axis": null}, "text": {"field": "value"}}},
        {"width": 117.77, "height": 148.8, "data": {"name": "stats"}, "transform": [{"filter": "datum.series === 'TBills' && datum.col === 'MS'"}], "mark": {"type": "text", "dy": 120.3},
         "encoding": {"x": {"datum": 0, "type": "quantitative", "scale": {"domain": [0, 1]}, "axis": null}, "y": {"datum": 1, "type": "quantitative", "scale": {"domain": [0, 1]}, "axis": null}, "text": {"field": "value"}}},
        {"width": 213.6, "height": 148.8,
         "layer": [
           {"data": {"values": [{}]}, "mark": {"type": "rect", "fill": "white", "stroke": "black", "strokeWidth": 1.5},
            "encoding": {"x": {"datum": -2.147, "type": "quantitative", "scale": {"domain": [-5.852, 38.12], "nice": false, "zero": false}, "axis": null}, "x2": {"datum": 32.15},
                         "y": {"datum": -2.513, "type": "quantitative", "scale": {"domain": [-9.598, 27.784], "nice": false, "zero": false}, "axis": null}, "y2": {"datum": 22.61}}},
           {"data": {"values": [{}]}, "mark": {"type": "rect", "fill": "#c0c0c0", "stroke": "#808080", "strokeWidth": 1},
            "encoding": {"x": {"datum": -0.5, "type": "quantitative", "scale": {"domain": [-5.852, 38.12], "nice": false, "zero": false}, "axis": null}, "x2": {"datum": 30.5},
                         "y": {"datum": 0, "type": "quantitative", "scale": {"domain": [-9.598, 27.784], "nice": false, "zero": false}, "axis": null}, "y2": {"datum": 20}}},
           {"data": {"values": [{}]}, "mark": {"type": "rule", "color": "#333333", "strokeWidth": 1},
            "encoding": {"x": {"datum": -0.5, "type": "quantitative", "scale": {"domain": [-5.852, 38.12], "nice": false, "zero": false}, "axis": null},
                         "y": {"datum": 0, "type": "quantitative", "scale": {"domain": [-9.598, 27.784], "nice": false, "zero": false}, "axis": null}, "y2": {"datum": 20}}},
           {"data": {"name": "hist"}, "transform": [{"filter": "datum.series === 'TBills' && datum.freq === 'Annual'"}],
            "mark": {"type": "bar", "orient": "vertical", "fill": "#993366", "stroke": "black", "strokeWidth": 1, "width": 3.3},
            "encoding": {"x": {"field": "bin", "type": "quantitative", "scale": {"domain": [-5.852, 38.12], "nice": false, "zero": false}, "axis": null},
                         "y": {"field": "count", "type": "quantitative", "scale": {"domain": [-9.598, 27.784], "nice": false, "zero": false},
                               "axis": {"orient": "left", "offset": -26.0, "domain": false, "labels": false, "grid": false, "ticks": true, "tickSize": 2, "tickColor": "#333333", "tickWidth": 1, "values": [0, 5, 10, 15, 20], "title": null}}}}
         ]},
        {"width": 213.6, "height": 148.8,
         "layer": [
           {"data": {"values": [{}]}, "mark": {"type": "rect", "fill": "white", "stroke": "black", "strokeWidth": 1.5},
            "encoding": {"x": {"datum": -1.924, "type": "quantitative", "scale": {"domain": [-5.128, 32.897], "nice": false, "zero": false}, "axis": null}, "x2": {"datum": 28.87},
                         "y": {"datum": -38.2, "type": "quantitative", "scale": {"domain": [-131.25, 359.39], "nice": false, "zero": false}, "axis": null}, "y2": {"datum": 336.3}}},
           {"data": {"values": [{}]}, "mark": {"type": "rect", "fill": "#c0c0c0", "stroke": "#808080", "strokeWidth": 1},
            "encoding": {"x": {"datum": -0.5, "type": "quantitative", "scale": {"domain": [-5.128, 32.897], "nice": false, "zero": false}, "axis": null}, "x2": {"datum": 27.5},
                         "y": {"datum": 0, "type": "quantitative", "scale": {"domain": [-131.25, 359.39], "nice": false, "zero": false}, "axis": null}, "y2": {"datum": 300}}},
           {"data": {"values": [{}]}, "mark": {"type": "rule", "color": "black", "strokeWidth": 1.5},
            "encoding": {"x": {"datum": -0.5, "type": "quantitative", "scale": {"domain": [-5.128, 32.897], "nice": false, "zero": false}, "axis": null},
                         "y": {"datum": 0, "type": "quantitative", "scale": {"domain": [-131.25, 359.39], "nice": false, "zero": false}, "axis": null}, "y2": {"datum": 300}}},
           {"data": {"name": "hist"}, "transform": [{"filter": "datum.series === 'TBills' && datum.freq === 'Monthly'"}],
            "mark": {"type": "bar", "orient": "vertical", "fill": "#800000", "stroke": "black", "strokeWidth": 1, "width": 2.5},
            "encoding": {"x": {"field": "bin", "type": "quantitative", "scale": {"domain": [-5.128, 32.897], "nice": false, "zero": false}, "axis": null},
                         "y": {"field": "count", "type": "quantitative", "scale": {"domain": [-131.25, 359.39], "nice": false, "zero": false},
                               "axis": {"orient": "left", "offset": -26.0, "domain": false, "labels": false, "grid": false, "ticks": true, "tickSize": 3, "tickColor": "black", "tickWidth": 1.5, "values": [0, 100, 200, 300], "title": null}}}}
         ]}
      ]
    },
    {
      "bounds": "flush",
      "hconcat": [
        {"width": 136.6, "height": 174.8, "data": {"name": "series"}, "transform": [{"filter": "datum.series === 'Inflation'"}], "mark": {"type": "text", "fontSize": 21, "lineHeight": 24.5, "dx": 14.3, "dy": 147.8},
         "encoding": {"x": {"datum": 0, "type": "quantitative", "scale": {"domain": [0, 1]}, "axis": null}, "y": {"datum": 1, "type": "quantitative", "scale": {"domain": [0, 1]}, "axis": null}, "text": {"field": "label"}}},
        {"width": 117.77, "height": 174.8, "data": {"name": "stats"}, "transform": [{"filter": "datum.series === 'Inflation' && datum.col === 'AG'"}], "mark": {"type": "text", "dy": 144.3},
         "encoding": {"x": {"datum": 0, "type": "quantitative", "scale": {"domain": [0, 1]}, "axis": null}, "y": {"datum": 1, "type": "quantitative", "scale": {"domain": [0, 1]}, "axis": null}, "text": {"field": "value"}}},
        {"width": 117.77, "height": 174.8, "data": {"name": "stats"}, "transform": [{"filter": "datum.series === 'Inflation' && datum.col === 'AA'"}], "mark": {"type": "text", "dy": 144.3},
         "encoding": {"x": {"datum": 0, "type": "quantitative", "scale": {"domain": [0, 1]}, "axis": null}, "y": {"datum": 1, "type": "quantitative", "scale": {"domain": [0, 1]}, "axis": null}, "text": {"field": "value"}}},
        {"width": 117.77, "height": 174.8, "data": {"name": "stats"}, "transform": [{"filter": "datum.series === 'Inflation' && datum.col === 'AS'"}], "mark": {"type": "text", "dy": 144.3},
         "encoding": {"x": {"datum": 0, "type": "quantitative", "scale": {"domain": [0, 1]}, "axis": null}, "y": {"datum": 1, "type": "quantitative", "scale": {"domain": [0, 1]}, "axis": null}, "text": {"field": "value"}}},
        {"width": 117.77, "height": 174.8, "data": {"name": "stats"}, "transform": [{"filter": "datum.series === 'Inflation' && datum.col === 'MG'"}], "mark": {"type": "text", "dy": 144.3},
         "encoding": {"x": {"datum": 0, "type": "quantitative", "scale": {"domain": [0, 1]}, "axis": null}, "y": {"datum": 1, "type": "quantitative", "scale": {"domain": [0, 1]}, "axis": null}, "text": {"field": "value"}}},
        {"width": 117.77, "height": 174.8, "data": {"name": "stats"}, "transform": [{"filter": "datum.series === 'Inflation' && datum.col === 'MA'"}], "mark": {"type": "text", "dy": 144.3},
         "encoding": {"x": {"datum": 0, "type": "quantitative", "scale": {"domain": [0, 1]}, "axis": null}, "y": {"datum": 1, "type": "quantitative", "scale": {"domain": [0, 1]}, "axis": null}, "text": {"field": "value"}}},
        {"width": 117.77, "height": 174.8, "data": {"name": "stats"}, "transform": [{"filter": "datum.series === 'Inflation' && datum.col === 'MS'"}], "mark": {"type": "text", "dy": 144.3},
         "encoding": {"x": {"datum": 0, "type": "quantitative", "scale": {"domain": [0, 1]}, "axis": null}, "y": {"datum": 1, "type": "quantitative", "scale": {"domain": [0, 1]}, "axis": null}, "text": {"field": "value"}}},
        {"width": 213.6, "height": 174.8,
         "layer": [
           {"data": {"values": [{}]}, "mark": {"type": "rect", "fill": "white", "stroke": "black", "strokeWidth": 1.5},
            "encoding": {"x": {"datum": -1.376, "type": "quantitative", "scale": {"domain": [-3.07, 17.04], "nice": false, "zero": false}, "axis": null}, "x2": {"datum": 14.31},
                         "y": {"datum": -2.734, "type": "quantitative", "scale": {"domain": [-11.011, 35.384], "nice": false, "zero": false}, "axis": null}, "y2": {"datum": 32.92}}},
           {"data": {"values": [{}]}, "mark": {"type": "rect", "fill": "#c0c0c0", "stroke": "#808080", "strokeWidth": 1},
            "encoding": {"x": {"datum": -0.5, "type": "quantitative", "scale": {"domain": [-3.07, 17.04], "nice": false, "zero": false}, "axis": null}, "x2": {"datum": 13.5},
                         "y": {"datum": 0, "type": "quantitative", "scale": {"domain": [-11.011, 35.384], "nice": false, "zero": false}, "axis": null}, "y2": {"datum": 30}}},
           {"data": {"values": [{}]}, "mark": {"type": "rule", "color": "#333333", "strokeWidth": 1},
            "encoding": {"x": {"datum": -0.5, "type": "quantitative", "scale": {"domain": [-3.07, 17.04], "nice": false, "zero": false}, "axis": null},
                         "y": {"datum": 0, "type": "quantitative", "scale": {"domain": [-11.011, 35.384], "nice": false, "zero": false}, "axis": null}, "y2": {"datum": 30}}},
           {"data": {"name": "hist"}, "transform": [{"filter": "datum.series === 'Inflation' && datum.freq === 'Annual'"}],
            "mark": {"type": "bar", "orient": "vertical", "fill": "#993366", "stroke": "black", "strokeWidth": 1, "width": 4.7},
            "encoding": {"x": {"field": "bin", "type": "quantitative", "scale": {"domain": [-3.07, 17.04], "nice": false, "zero": false}, "axis": null},
                         "y": {"field": "count", "type": "quantitative", "scale": {"domain": [-11.011, 35.384], "nice": false, "zero": false},
                               "axis": {"orient": "left", "offset": -27.3, "domain": false, "labels": false, "grid": false, "ticks": true, "tickSize": 2, "tickColor": "#333333", "tickWidth": 1, "values": [0, 5, 10, 15, 20, 25, 30], "title": null}}}}
         ]},
        {"width": 213.6, "height": 174.8,
         "layer": [
           {"data": {"values": [{}]}, "mark": {"type": "rect", "fill": "white", "stroke": "black", "strokeWidth": 1.5},
            "encoding": {"x": {"datum": -1.835, "type": "quantitative", "scale": {"domain": [-4.632, 29.32], "nice": false, "zero": false}, "axis": null}, "x2": {"datum": 25.72},
                         "y": {"datum": -59.0, "type": "quantitative", "scale": {"domain": [-269.07, 644.24], "nice": false, "zero": false}, "axis": null}, "y2": {"datum": 559.0}}},
           {"data": {"values": [{}]}, "mark": {"type": "rect", "fill": "#c0c0c0", "stroke": "#808080", "strokeWidth": 1},
            "encoding": {"x": {"datum": -0.5, "type": "quantitative", "scale": {"domain": [-4.632, 29.32], "nice": false, "zero": false}, "axis": null}, "x2": {"datum": 24.5},
                         "y": {"datum": 0, "type": "quantitative", "scale": {"domain": [-269.07, 644.24], "nice": false, "zero": false}, "axis": null}, "y2": {"datum": 500}}},
           {"data": {"values": [{}]}, "mark": {"type": "rule", "color": "black", "strokeWidth": 1.5},
            "encoding": {"x": {"datum": -0.5, "type": "quantitative", "scale": {"domain": [-4.632, 29.32], "nice": false, "zero": false}, "axis": null},
                         "y": {"datum": 0, "type": "quantitative", "scale": {"domain": [-269.07, 644.24], "nice": false, "zero": false}, "axis": null}, "y2": {"datum": 500}}},
           {"data": {"name": "hist"}, "transform": [{"filter": "datum.series === 'Inflation' && datum.freq === 'Monthly'"}],
            "mark": {"type": "bar", "orient": "vertical", "fill": "#800000", "stroke": "black", "strokeWidth": 1, "width": 3.5},
            "encoding": {"x": {"field": "bin", "type": "quantitative", "scale": {"domain": [-4.632, 29.32], "nice": false, "zero": false}, "axis": null},
                         "y": {"field": "count", "type": "quantitative", "scale": {"domain": [-269.07, 644.24], "nice": false, "zero": false},
                               "axis": {"orient": "left", "offset": -26.0, "domain": false, "labels": false, "grid": false, "ticks": true, "tickSize": 3, "tickColor": "black", "tickWidth": 1.5, "values": [0, 100, 200, 300, 400, 500], "title": null}}}}
         ]}
      ]
    },
    {
      "bounds": "flush",
      "hconcat": [
        {"width": 136.6, "height": 149.6, "data": {"name": "series"}, "transform": [{"filter": "datum.series === 'Bonds'"}], "mark": {"type": "text", "fontSize": 21, "lineHeight": 24.5, "dx": 14.3, "dy": 73},
         "encoding": {"x": {"datum": 0, "type": "quantitative", "scale": {"domain": [0, 1]}, "axis": null}, "y": {"datum": 1, "type": "quantitative", "scale": {"domain": [0, 1]}, "axis": null}, "text": {"field": "label"}}},
        {"width": 117.77, "height": 149.6, "data": {"name": "stats"}, "transform": [{"filter": "datum.series === 'Bonds' && datum.col === 'AG'"}], "mark": {"type": "text", "dy": 117.6},
         "encoding": {"x": {"datum": 0, "type": "quantitative", "scale": {"domain": [0, 1]}, "axis": null}, "y": {"datum": 1, "type": "quantitative", "scale": {"domain": [0, 1]}, "axis": null}, "text": {"field": "value"}}},
        {"width": 117.77, "height": 149.6, "data": {"name": "stats"}, "transform": [{"filter": "datum.series === 'Bonds' && datum.col === 'AA'"}], "mark": {"type": "text", "dy": 117.6},
         "encoding": {"x": {"datum": 0, "type": "quantitative", "scale": {"domain": [0, 1]}, "axis": null}, "y": {"datum": 1, "type": "quantitative", "scale": {"domain": [0, 1]}, "axis": null}, "text": {"field": "value"}}},
        {"width": 117.77, "height": 149.6, "data": {"name": "stats"}, "transform": [{"filter": "datum.series === 'Bonds' && datum.col === 'AS'"}], "mark": {"type": "text", "dy": 117.6},
         "encoding": {"x": {"datum": 0, "type": "quantitative", "scale": {"domain": [0, 1]}, "axis": null}, "y": {"datum": 1, "type": "quantitative", "scale": {"domain": [0, 1]}, "axis": null}, "text": {"field": "value"}}},
        {"width": 117.77, "height": 149.6, "data": {"name": "stats"}, "transform": [{"filter": "datum.series === 'Bonds' && datum.col === 'MG'"}], "mark": {"type": "text", "dy": 117.6},
         "encoding": {"x": {"datum": 0, "type": "quantitative", "scale": {"domain": [0, 1]}, "axis": null}, "y": {"datum": 1, "type": "quantitative", "scale": {"domain": [0, 1]}, "axis": null}, "text": {"field": "value"}}},
        {"width": 117.77, "height": 149.6, "data": {"name": "stats"}, "transform": [{"filter": "datum.series === 'Bonds' && datum.col === 'MA'"}], "mark": {"type": "text", "dy": 117.6},
         "encoding": {"x": {"datum": 0, "type": "quantitative", "scale": {"domain": [0, 1]}, "axis": null}, "y": {"datum": 1, "type": "quantitative", "scale": {"domain": [0, 1]}, "axis": null}, "text": {"field": "value"}}},
        {"width": 117.77, "height": 149.6, "data": {"name": "stats"}, "transform": [{"filter": "datum.series === 'Bonds' && datum.col === 'MS'"}], "mark": {"type": "text", "dy": 117.6},
         "encoding": {"x": {"datum": 0, "type": "quantitative", "scale": {"domain": [0, 1]}, "axis": null}, "y": {"datum": 1, "type": "quantitative", "scale": {"domain": [0, 1]}, "axis": null}, "text": {"field": "value"}}},
        {"width": 213.6, "height": 149.6,
         "layer": [
           {"data": {"values": [{}]}, "mark": {"type": "rect", "fill": "white", "stroke": "black", "strokeWidth": 1.5},
            "encoding": {"x": {"datum": -1.831, "type": "quantitative", "scale": {"domain": [-4.525, 28.16], "nice": false, "zero": false}, "axis": null}, "x2": {"datum": 23.74},
                         "y": {"datum": -3.171, "type": "quantitative", "scale": {"domain": [-15.552, 30.057], "nice": false, "zero": false}, "axis": null}, "y2": {"datum": 28.05}}},
           {"data": {"values": [{}]}, "mark": {"type": "rect", "fill": "#c0c0c0", "stroke": "#808080", "strokeWidth": 1},
            "encoding": {"x": {"datum": -0.5, "type": "quantitative", "scale": {"domain": [-4.525, 28.16], "nice": false, "zero": false}, "axis": null}, "x2": {"datum": 22.5},
                         "y": {"datum": 0, "type": "quantitative", "scale": {"domain": [-15.552, 30.057], "nice": false, "zero": false}, "axis": null}, "y2": {"datum": 25}}},
           {"data": {"values": [{}]}, "mark": {"type": "rule", "color": "#333333", "strokeWidth": 1},
            "encoding": {"x": {"datum": -0.5, "type": "quantitative", "scale": {"domain": [-4.525, 28.16], "nice": false, "zero": false}, "axis": null},
                         "y": {"datum": 0, "type": "quantitative", "scale": {"domain": [-15.552, 30.057], "nice": false, "zero": false}, "axis": null}, "y2": {"datum": 25}}},
           {"data": {"name": "hist"}, "transform": [{"filter": "datum.series === 'Bonds' && datum.freq === 'Annual'"}],
            "mark": {"type": "bar", "orient": "vertical", "fill": "#993366", "stroke": "black", "strokeWidth": 1, "width": 3.5},
            "encoding": {"x": {"field": "bin", "type": "quantitative", "scale": {"domain": [-4.525, 28.16], "nice": false, "zero": false}, "axis": null},
                         "y": {"field": "count", "type": "quantitative", "scale": {"domain": [-15.552, 30.057], "nice": false, "zero": false},
                               "axis": {"orient": "left", "offset": -26.3, "domain": false, "labels": false, "grid": false, "ticks": true, "tickSize": 2, "tickColor": "#333333", "tickWidth": 1, "values": [0, 5, 10, 15, 20, 25], "title": null}}}}
         ]},
        {"width": 213.6, "height": 149.6,
         "layer": [
           {"data": {"values": [{}]}, "mark": {"type": "rect", "fill": "white", "stroke": "black", "strokeWidth": 1.5},
            "encoding": {"x": {"datum": -2.467, "type": "quantitative", "scale": {"domain": [-6.589, 43.432], "nice": false, "zero": false}, "axis": null}, "x2": {"datum": 38.16},
                         "y": {"datum": -53.7, "type": "quantitative", "scale": {"domain": [-282.1, 545.33], "nice": false, "zero": false}, "axis": null}, "y2": {"datum": 508.8}}},
           {"data": {"values": [{}]}, "mark": {"type": "rect", "fill": "#c0c0c0", "stroke": "#808080", "strokeWidth": 1},
            "encoding": {"x": {"datum": -0.5, "type": "quantitative", "scale": {"domain": [-6.589, 43.432], "nice": false, "zero": false}, "axis": null}, "x2": {"datum": 36.5},
                         "y": {"datum": 0, "type": "quantitative", "scale": {"domain": [-282.1, 545.33], "nice": false, "zero": false}, "axis": null}, "y2": {"datum": 400}}},
           {"data": {"values": [{}]}, "mark": {"type": "rule", "color": "black", "strokeWidth": 1.5},
            "encoding": {"x": {"datum": -0.5, "type": "quantitative", "scale": {"domain": [-6.589, 43.432], "nice": false, "zero": false}, "axis": null},
                         "y": {"datum": 0, "type": "quantitative", "scale": {"domain": [-282.1, 545.33], "nice": false, "zero": false}, "axis": null}, "y2": {"datum": 400}}},
           {"data": {"name": "hist"}, "transform": [{"filter": "datum.series === 'Bonds' && datum.freq === 'Monthly'"}],
            "mark": {"type": "bar", "orient": "vertical", "fill": "#800000", "stroke": "black", "strokeWidth": 1, "width": 2.3},
            "encoding": {"x": {"field": "bin", "type": "quantitative", "scale": {"domain": [-6.589, 43.432], "nice": false, "zero": false}, "axis": null},
                         "y": {"field": "count", "type": "quantitative", "scale": {"domain": [-282.1, 545.33], "nice": false, "zero": false},
                               "axis": {"orient": "left", "offset": -26.0, "domain": false, "labels": false, "grid": false, "ticks": true, "tickSize": 3, "tickColor": "black", "tickWidth": 1.5, "values": [0, 200, 400], "title": null}}}}
         ]}
      ]
    }
  ]
}
